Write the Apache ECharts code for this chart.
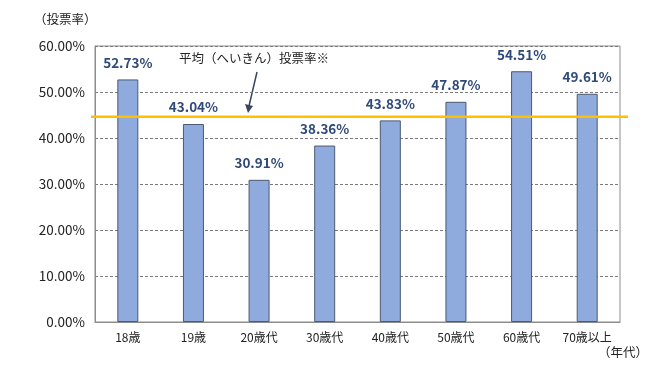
<!DOCTYPE html>
<html><head><meta charset="utf-8">
<script src="https://cdn.jsdelivr.net/npm/echarts@6/dist/echarts.min.js"></script>
<style>html,body{margin:0;padding:0;background:#fff}#c{width:660px;height:372px}</style>
</head><body><div id="c"></div>
<script>
const categories = ['18歳','19歳','20歳代','30歳代','40歳代','50歳代','60歳代','70歳以上'];
const turnout = [52.73, 43.04, 30.91, 38.36, 43.83, 47.87, 54.51, 49.61];
const averageTurnout = 44.6;
const yTicks = [0, 10, 20, 30, 40, 50, 60];

const font = '"Noto Sans CJK JP", "Noto Sans", sans-serif';
const chart = echarts.init(document.getElementById('c'));
chart.setOption({
  animation: false,
  textStyle: { fontFamily: font },
  grid: [
    { left: 95, right: 40, top: 46, bottom: 50, show: true, borderColor: '#8c8c8c', borderWidth: 1, backgroundColor: 'transparent' },
    { left: 91, right: 32, top: 46, bottom: 50 }
  ],
  xAxis: [
    { type: 'category', data: categories, gridIndex: 0,
      axisLine: { lineStyle: { color: '#8c8c8c' } }, axisTick: { show: false },
      axisLabel: { color: '#222', fontSize: 12, margin: 9, interval: 0, hideOverlap: false, fontFamily: font } },
    { type: 'category', data: [0, 1], gridIndex: 1, boundaryGap: false, show: false }
  ],
  yAxis: [
    { type: 'value', min: 0, max: 60, interval: 10, gridIndex: 0,
      axisLine: { show: true, lineStyle: { color: '#8c8c8c' } },
      axisLabel: { color: '#222', fontSize: 13.5, margin: 10, fontFamily: font,
        formatter: v => v.toFixed(2) + '%' },
      splitLine: { lineStyle: { color: '#7a7a7a', type: [3, 2], width: 1 } } },
    { type: 'value', min: 0, max: 60, gridIndex: 1, show: false, splitLine: { show: false } }
  ],
  series: [
    { type: 'bar', data: turnout, barWidth: 21, xAxisIndex: 0, yAxisIndex: 0,
      itemStyle: { color: '#8faadc', borderColor: '#4d5a70', borderWidth: 1 },
      label: { show: true, position: 'top', distance: 10, color: '#2f4a7a', fontSize: 13.5, fontWeight: 'bold',
        fontFamily: font, formatter: p => p.value.toFixed(2) + '%' } },
    { type: 'line', data: [averageTurnout, averageTurnout], xAxisIndex: 1, yAxisIndex: 1,
      symbol: 'none', lineStyle: { color: '#ffc000', width: 2.5 }, z: 5 }
  ],
  graphic: [
    { type: 'text', left: 34, top: 13, style: { text: '（投票率）', fontSize: 12.5, fill: '#222', fontFamily: font } },
    { type: 'text', left: 598, top: 346, style: { text: '（年代）', fontSize: 12.5, fill: '#222', fontFamily: font } },
    { type: 'text', left: 179, top: 52, style: { text: '平均（へいきん）投票率※', fontSize: 12.5, fill: '#222', fontFamily: font } },
    { type: 'line', shape: { x1: 257, y1: 72, x2: 249, y2: 106 }, style: { stroke: '#3a4660', lineWidth: 1.5 } },
    { type: 'polygon', shape: { points: [[248, 113], [245, 104], [253, 106]] }, style: { fill: '#3a4660' } }
  ]
});
</script></body></html>
